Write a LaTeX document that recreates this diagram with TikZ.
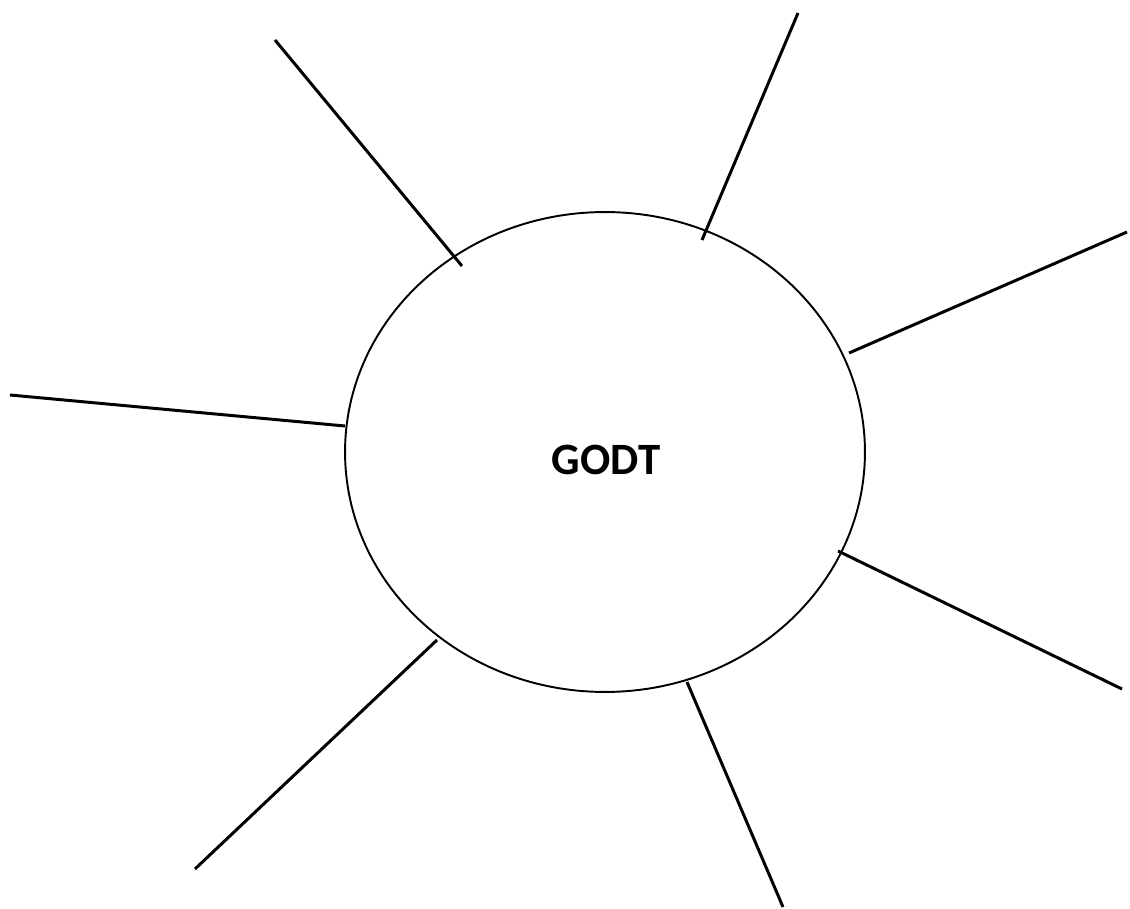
\documentclass[tikz,border=0pt]{standalone}
\usepackage{fontspec}
\setmainfont{Carlito}
\usetikzlibrary{shapes.geometric}

\begin{document}
\begin{tikzpicture}[x=0.02cm,y=-0.02cm]
	\useasboundingbox (0,0) rectangle (1130,909);
	\node [draw, ellipse, line width=1.1pt, minimum width=10.4cm, minimum height=9.6cm] (godt) at (605,452) {};
	\node [font=\fontsize{25.5}{30}\selectfont\bfseries] (godtlabel) at (606,460) {GODT};
	\foreach
	\i/\xa/\ya/\xb/\yb
	in
	{
		1/462/266/275/40,
		2/702/240/798/13,
		3/849/353/1127/232,
		4/345/426/10/395,
		5/838/551/1122/689,
		6/437/640/195/869,
		7/687/682/783/907
	}
	{
		\coordinate (in\i) at (\xa,\ya);
		\coordinate (out\i) at (\xb,\yb);
		\draw [line width=1.7pt] (in\i) -- (out\i);
	}
\end{tikzpicture}
\end{document}
